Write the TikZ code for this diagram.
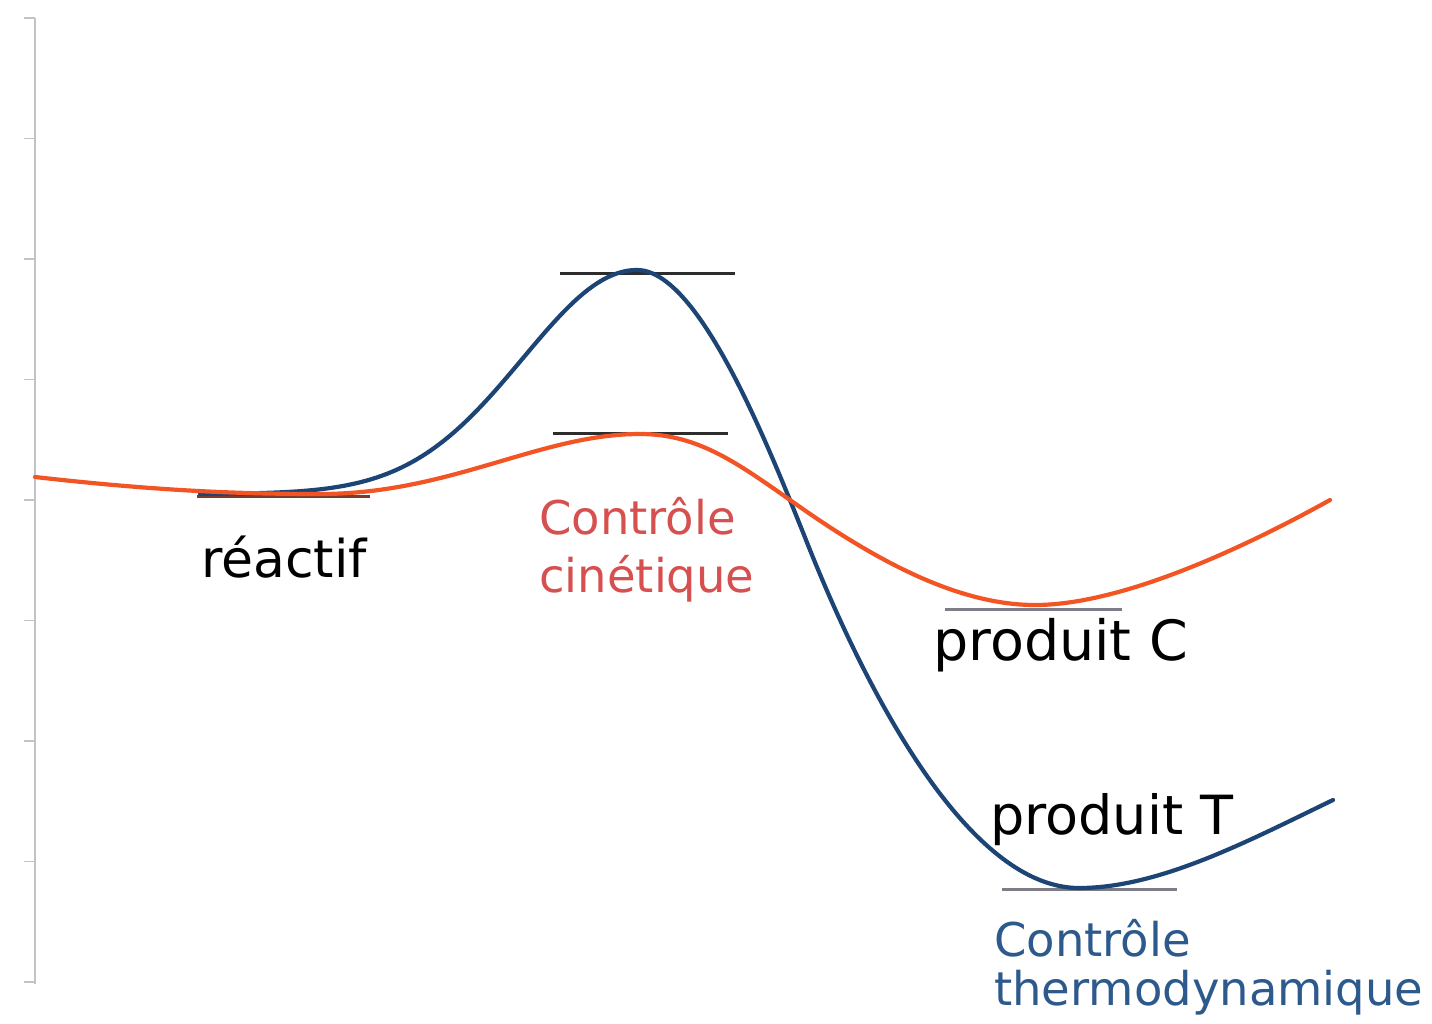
\documentclass[tikz,border=0pt]{standalone}
\usepackage{fontspec}
\setmainfont{DejaVu Sans}
\definecolor{curveblue}{RGB}{28,68,116}
\definecolor{curveorange}{RGB}{242,84,36}
\definecolor{txtred}{RGB}{215,80,80}
\definecolor{txtblue}{RGB}{45,90,140}
\definecolor{axisgray}{RGB}{195,195,195}
\definecolor{levelgray}{RGB}{125,125,135}
\definecolor{leveldark}{RGB}{45,45,45}
\definecolor{levelbrown}{RGB}{120,60,40}
\tikzset{
  curveline/.style={line width=4.2pt, line cap=round, line join=round},
  levelline/.style={line width=3pt},
  blacklabel/.style={anchor=base west, inner sep=0pt, text=black},
  redlabel/.style={anchor=base west, inner sep=0pt, text=txtred, font=\fontsize{46.5}{58}\selectfont},
  bluelabel/.style={anchor=base west, inner sep=0pt, text=txtblue, font=\fontsize{46.5}{48}\selectfont},
}
\begin{document}
\begin{tikzpicture}[x=1pt,y=-1pt]
\useasboundingbox (0,0) rectangle (1432,1023);
% axis
\draw[axisgray, line width=2.5pt] (35,18) -- (35,984);
\foreach \t in {18,138.5,259,379.5,500,620.5,741,861.5,982}
  \draw[axisgray, line width=1.5pt] (24,\t) -- (35,\t);
% level lines
\coordinate (r1) at (197,496); \coordinate (r2) at (370,496);
\coordinate (a1) at (560,273); \coordinate (a2) at (735,273);
\coordinate (b1) at (553,433); \coordinate (b2) at (728,433);
\coordinate (c1) at (945,609); \coordinate (c2) at (1122,609);
\coordinate (d1) at (1002,889); \coordinate (d2) at (1177,889);
\draw[levelline, levelbrown] (r1) -- (r2);
\draw[levelline, leveldark] (a1) -- (a2);
\draw[levelline, leveldark] (b1) -- (b2);
\draw[levelline, levelgray] (c1) -- (c2);
\draw[levelline, levelgray] (d1) -- (d2);
% blue curve (thermodynamic)
\draw[curveline, curveblue]
  plot[domain=200:637, samples=90] (\x, {494-224*exp(-((\x-637)/114)^2/2)})
  .. controls (700,270) and (770,450) .. (810,550)
  .. controls (855,662) and (960,888) .. (1079,888)
  .. controls (1160,888) and (1250,840) .. (1333,800);
% orange curve (kinetic)
\draw[curveline, curveorange]
  (35,477) .. controls (150,490) and (230,494) .. (320,494)
  .. controls (450,494) and (540,434) .. (640,434)
  .. controls (700,434) and (740,465) .. (800,507)
  .. controls (880,563) and (960,605) .. (1035,605)
  .. controls (1120,605) and (1240,550) .. (1330,500);
% labels
\node[blacklabel, font=\fontsize{52}{60}\selectfont] (reactif) at (201,577) {réactif};
\node[redlabel] (cin1) at (539,534) {Contrôle};
\node[redlabel] (cin2) at (539,592) {cinétique};
\node[blacklabel, font=\fontsize{55.5}{60}\selectfont] (prodC) at (933,660) {produit C};
\node[blacklabel, font=\fontsize{54}{60}\selectfont] (prodT) at (990,834) {produit T};
\node[bluelabel] (thermo1) at (994,956) {Contrôle};
\node[bluelabel] (thermo2) at (994,1005) {thermodynamique};
\end{tikzpicture}
\end{document}
